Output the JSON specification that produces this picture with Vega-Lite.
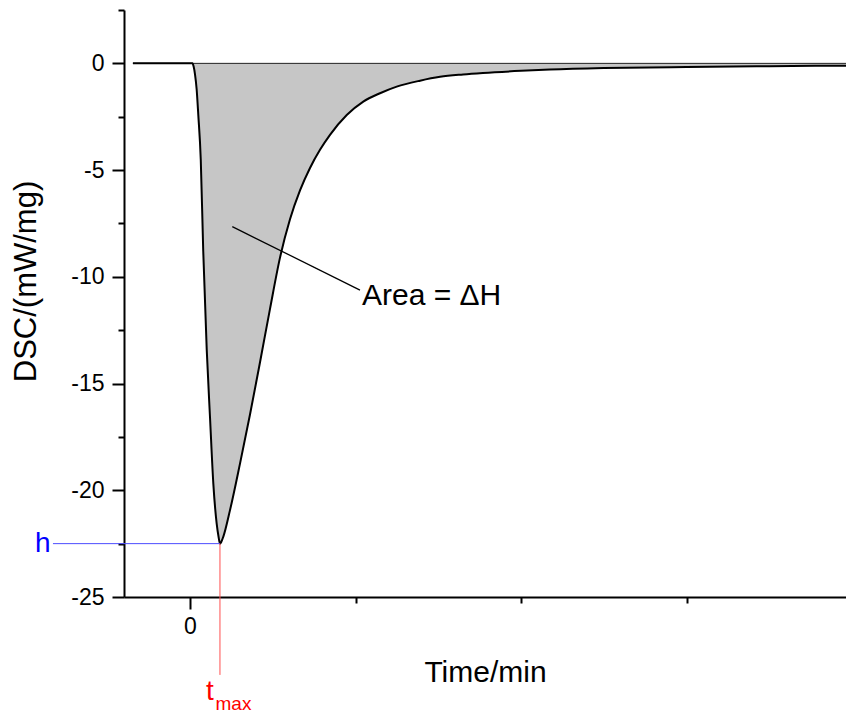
{
  "$schema": "https://vega.github.io/schema/vega-lite/v6.json",
  "width": 722,
  "height": 587,
  "autosize": "none",
  "padding": {"left": 124, "top": 10, "right": 0, "bottom": 116},
  "background": "white",
  "config": {"view": {"stroke": null}, "font": "Liberation Sans"},
  "datasets": {
    "curve": [
      {"t": -0.345, "v": 0}, {"t": 0.0, "v": 0}, {"t": 0.015, "v": 0}, {"t": 0.022, "v": -0.15},
      {"t": 0.03, "v": -0.5}, {"t": 0.04, "v": -1.2}, {"t": 0.05, "v": -2.4}, {"t": 0.065, "v": -4.5},
      {"t": 0.08, "v": -8.8}, {"t": 0.101, "v": -13.4}, {"t": 0.121, "v": -16.6}, {"t": 0.141, "v": -19.7},
      {"t": 0.161, "v": -21.55}, {"t": 0.173, "v": -22.2}, {"t": 0.181, "v": -22.5}, {"t": 0.19, "v": -22.4},
      {"t": 0.201, "v": -22.18}, {"t": 0.2417, "v": -20.93}, {"t": 0.3021, "v": -18.75}, {"t": 0.3625, "v": -16.45},
      {"t": 0.423, "v": -14.0}, {"t": 0.4834, "v": -11.5}, {"t": 0.5438, "v": -9.1}, {"t": 0.6042, "v": -7.3},
      {"t": 0.6647, "v": -5.95}, {"t": 0.7251, "v": -4.9}, {"t": 0.7855, "v": -4.05}, {"t": 0.8459, "v": -3.35},
      {"t": 0.947, "v": -2.42}, {"t": 1.047, "v": -1.79}, {"t": 1.148, "v": -1.4}, {"t": 1.249, "v": -1.09},
      {"t": 1.39, "v": -0.81}, {"t": 1.511, "v": -0.63}, {"t": 1.65, "v": -0.52}, {"t": 1.77, "v": -0.45},
      {"t": 2.0, "v": -0.35}, {"t": 2.175, "v": -0.29}, {"t": 2.5, "v": -0.22}, {"t": 3.0, "v": -0.17},
      {"t": 3.5, "v": -0.13}, {"t": 3.964, "v": -0.11}
    ]
  },
  "encoding": {
    "x": {
      "field": "t", "type": "quantitative",
      "scale": {"domain": [-0.3988, 3.9637], "nice": false, "zero": false},
      "axis": {
        "title": "Time/min", "values": [0, 1, 2, 3],
        "labelExpr": "datum.value == 0 ? '0' : ''",
        "tickSize": {"condition": {"test": "datum.value == 0", "value": 12}, "value": 6},
        "grid": false, "domainColor": "black", "domainWidth": 2, "tickColor": "black", "tickWidth": 2,
        "labelFontSize": 23, "labelColor": "black", "labelPadding": 6, "labelFlush": false,
        "titleFontSize": 30, "titleFontWeight": "normal", "titleColor": "black", "titlePadding": 19
      }
    },
    "y": {
      "field": "v", "type": "quantitative",
      "scale": {"domain": [-25, 2.5], "nice": false, "zero": false},
      "axis": {
        "title": "DSC/(mW/mg)",
        "values": [-25, -22.5, -20, -17.5, -15, -12.5, -10, -7.5, -5, -2.5, 0, 2.5],
        "labelExpr": "datum.value % 5 == 0 ? toString(datum.value) : ''",
        "tickSize": {"condition": {"test": "datum.value % 5 == 0", "value": 12}, "value": 6},
        "grid": false, "domainColor": "black", "domainWidth": 2, "tickColor": "black", "tickWidth": 2,
        "labelFontSize": 23, "labelColor": "black", "labelPadding": 8, "labelFlush": false,
        "titleFontSize": 31, "titleFontWeight": "normal", "titleColor": "black",
        "titleX": -98, "titleY": 271, "titleAlign": "center", "titleBaseline": "middle", "titleAngle": -90
      }
    }
  },
  "layer": [
    {
      "data": {"name": "curve"},
      "mark": {"type": "area", "color": "#c6c6c6", "interpolate": "monotone"},
      "encoding": {"y2": {"datum": 0}}
    },
    {
      "data": {"values": [{"t": -0.345, "t2": 3.964, "v": 0}]},
      "mark": {"type": "rule", "color": "#222222", "strokeWidth": 1},
      "encoding": {"x2": {"field": "t2"}}
    },
    {
      "data": {"name": "curve"},
      "mark": {"type": "line", "color": "black", "strokeWidth": 2, "interpolate": "monotone"}
    },
    {
      "data": {"values": [{"t": 0.2556, "v": -7.65, "t2": 1.027, "v2": -10.62}]},
      "mark": {"type": "rule", "color": "black", "strokeWidth": 1.3},
      "encoding": {"x2": {"field": "t2"}, "y2": {"field": "v2"}}
    },
    {
      "data": {"values": [{"t": -0.828, "v": -22.5, "t2": 0.181, "v2": -22.5}]},
      "mark": {"type": "rule", "color": "#4d4dff", "strokeWidth": 1},
      "encoding": {"x2": {"field": "t2"}, "y2": {"field": "v2"}}
    },
    {
      "data": {"values": [{"t": 0.181, "v": -22.5, "t2": 0.181, "v2": -28.65}]},
      "mark": {"type": "rule", "color": "#ff5050", "strokeWidth": 1},
      "encoding": {"x2": {"field": "t2"}, "y2": {"field": "v2"}}
    },
    {
      "data": {"values": [{"t": 1.039, "v": -11.32, "label": "Area = ΔH"}]},
      "mark": {"type": "text", "align": "left", "baseline": "alphabetic", "fontSize": 30, "color": "black"},
      "encoding": {"text": {"field": "label"}}
    },
    {
      "data": {"values": [{"t": -0.937, "v": -22.89, "label": "h"}]},
      "mark": {"type": "text", "align": "left", "baseline": "alphabetic", "fontSize": 28, "color": "#0000ff"},
      "encoding": {"text": {"field": "label"}}
    },
    {
      "data": {"values": [{"t": 0.0967, "v": -29.82, "label": "t"}]},
      "mark": {"type": "text", "align": "left", "baseline": "alphabetic", "fontSize": 28, "color": "#ff0000"},
      "encoding": {"text": {"field": "label"}}
    },
    {
      "data": {"values": [{"t": 0.154, "v": -30.29, "label": "max"}]},
      "mark": {"type": "text", "align": "left", "baseline": "alphabetic", "fontSize": 19, "color": "#ff0000"},
      "encoding": {"text": {"field": "label"}}
    }
  ]
}
